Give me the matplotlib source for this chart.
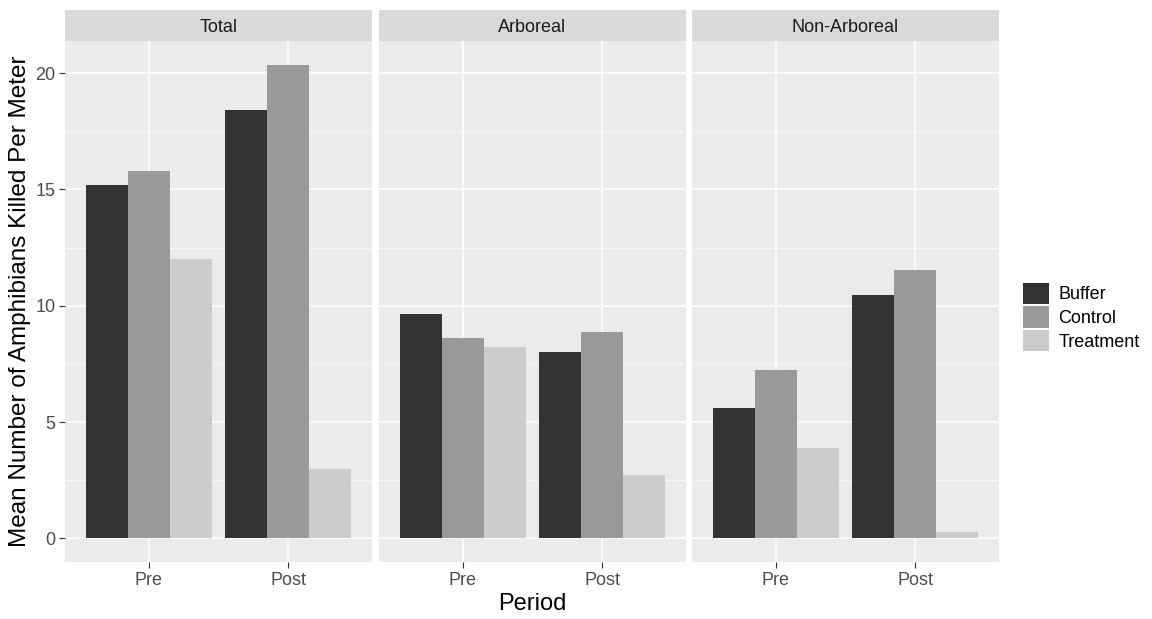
import numpy as np
import matplotlib.pyplot as plt
from matplotlib.patches import Patch

plt.rcParams['font.family'] = ['Liberation Sans', 'DejaVu Sans']

# data
facets = ["Total", "Arboreal", "Non-Arboreal"]
periods = ["Pre", "Post"]
groups = ["Buffer", "Control", "Treatment"]
colors = ["#333333", "#999999", "#CCCCCC"]

total_vals = {"Buffer": [15.18, 18.40], "Control": [15.81, 20.36], "Treatment": [12.02, 3.00]}
arboreal_vals = {"Buffer": [9.63, 8.01], "Control": [8.60, 8.85], "Treatment": [8.22, 2.72]}
nonarb_vals = {"Buffer": [5.60, 10.45], "Control": [7.25, 11.53], "Treatment": [3.88, 0.29]}
facet_data = [total_vals, arboreal_vals, nonarb_vals]

W, H = 1152, 619
fig = plt.figure(figsize=(W / 100, H / 100), dpi=100)

lefts = [65, 379, 692]
pw = 307
ptop, pbot = 41, 562
strip_top = 10

ymax = max(max(max(v) for v in d.values()) for d in facet_data)
ylo, yhi = -0.05 * ymax, ymax * 1.05

bw = 0.9 / 3
x = np.arange(1, 3)
for i, (name, d) in enumerate(zip(facets, facet_data)):
    ax = fig.add_axes([lefts[i] / W, 1 - pbot / H, pw / W, (pbot - ptop) / H])
    ax.set_facecolor("#EBEBEB")
    for j, g in enumerate(groups):
        ax.bar(x + (j - 1) * bw, d[g], width=bw, color=colors[j], linewidth=0, zorder=3)
    ax.set_xlim(0.4, 2.6)
    ax.set_ylim(ylo, yhi)
    ax.set_xticks(x)
    ax.set_xticklabels(periods, fontsize=13, color="#4D4D4D")
    ax.set_yticks([0, 5, 10, 15, 20])
    ax.set_yticks([2.5, 7.5, 12.5, 17.5], minor=True)
    ax.grid(which="major", color="white", linewidth=1.1, zorder=0)
    ax.grid(which="minor", axis="y", color="white", linewidth=0.5, zorder=0)
    ax.set_axisbelow(True)
    for s in ax.spines.values():
        s.set_visible(False)
    ax.tick_params(axis="x", length=4, color="#333333", pad=3)
    ax.tick_params(which="minor", length=0)
    if i == 0:
        ax.set_yticklabels(["0", "5", "10", "15", "20"], fontsize=13, color="#4D4D4D")
        ax.tick_params(axis="y", length=4, color="#333333", pad=3)
        ax.set_ylabel("Mean Number of Amphibians Killed Per Meter", fontsize=17.5, labelpad=3)
    else:
        ax.tick_params(axis="y", length=0, labelleft=False)
    if i == 1:
        ax.set_xlabel("Period", fontsize=17, labelpad=3)

    sax = fig.add_axes([lefts[i] / W, 1 - ptop / H, pw / W, (ptop - strip_top) / H])
    sax.set_facecolor("#D9D9D9")
    sax.set_xticks([])
    sax.set_yticks([])
    for s in sax.spines.values():
        s.set_visible(False)
    sax.text(0.5, 0.42, name, ha="center", va="center", fontsize=13, color="#1A1A1A",
             transform=sax.transAxes)

handles = [Patch(facecolor=c, edgecolor="none", label=g) for c, g in zip(colors, groups)]
fig.legend(handles=handles, loc="center left", bbox_to_anchor=(1016 / W, 1 - 317 / H),
           frameon=False, fontsize=13, handlelength=1.45, handleheight=1.45,
           handletextpad=0.5, labelspacing=0.12, borderaxespad=0)

fig.savefig("out.png", dpi=100)
